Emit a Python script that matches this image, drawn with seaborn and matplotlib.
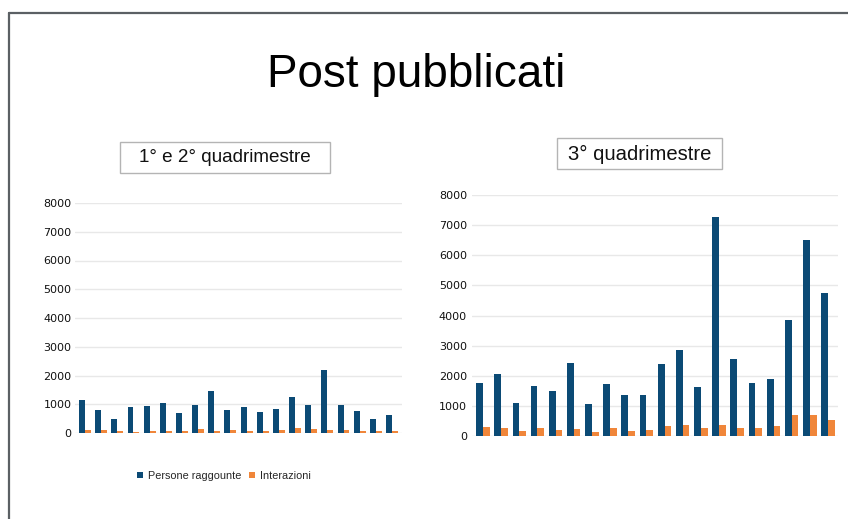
import matplotlib
matplotlib.use("Agg")
import matplotlib.pyplot as plt
from matplotlib.lines import Line2D
from matplotlib.patches import Rectangle
import numpy as np
import pandas as pd
import seaborn as sns

# Reach and interactions per published post
post_q12 = list(range(1, 21))
persone_q12 = [1160, 790, 490, 890, 930, 1030, 680, 960, 1450, 800,
               890, 730, 820, 1250, 960, 2180, 960, 770, 490, 630]
interazioni_q12 = [115, 110, 80, 35, 80, 80, 80, 150, 80, 110,
                   80, 80, 110, 175, 150, 110, 110, 80, 55, 80]

post_q3 = list(range(1, 21))
persone_q3 = [1770, 2060, 1100, 1650, 1500, 2420, 1060, 1730, 1370, 1360,
              2380, 2840, 1630, 7280, 2570, 1760, 1900, 3850, 6500, 4740]
interazioni_q3 = [310, 255, 155, 265, 210, 235, 145, 265, 175, 200,
                  320, 355, 255, 365, 255, 265, 330, 690, 690, 520]

series_names = ["Persone raggounte", "Interazioni"]
series_colors = ["#0b4a75", "#f0863a"]
y_ticks = [0, 1000, 2000, 3000, 4000, 5000, 6000, 7000, 8000]


def long_table(posts, reach, inter):
    return pd.DataFrame({
        "post": posts + posts,
        "valore": reach + inter,
        "serie": [series_names[0]] * len(posts) + [series_names[1]] * len(posts),
    })


sns.set_style("white")
plt.rcParams["font.family"] = ["Liberation Sans", "DejaVu Sans"]

W, H = 848, 519
fig = plt.figure(figsize=(W / 100, H / 100), dpi=100)


def px_axes(left, top, right, bottom):
    return fig.add_axes([left / W, 1 - bottom / H, (right - left) / W, (bottom - top) / H])


def px_box(left, top, right, bottom):
    fig.add_artist(Rectangle((left / W, 1 - bottom / H), (right - left) / W, (bottom - top) / H,
                             transform=fig.transFigure, facecolor="white",
                             edgecolor="#b4b4b4", linewidth=1.0))


def draw_panel(ax, df, xlim, pad):
    sns.barplot(data=df, x="post", y="valore", hue="serie", hue_order=series_names,
                palette=series_colors, saturation=1, width=0.74, ax=ax,
                edgecolor="none", linewidth=0)
    ax.set_ylim(0, 8000)
    ax.set_xlim(*xlim)
    ax.set_yticks(y_ticks)
    ax.set_yticklabels([str(v) for v in y_ticks], family="DejaVu Sans",
                       fontsize=8.0, color="#111111")
    ax.set_xticks([])
    ax.set_xlabel("")
    ax.set_ylabel("")
    ax.tick_params(axis="y", length=0, pad=pad)
    for s in ax.spines.values():
        s.set_visible(False)
    ax.grid(axis="y", color="#e8e8e8", linewidth=1.0)
    ax.set_axisbelow(True)
    ax.patch.set_alpha(0)


ax1 = px_axes(75, 203, 402, 433)
draw_panel(ax1, long_table(post_q12, persone_q12, interazioni_q12), (-0.62, 19.62), 2.4)

ax2 = px_axes(472, 195, 838, 436)
draw_panel(ax2, long_table(post_q3, persone_q3, interazioni_q3), (-0.6, 19.55), 3.6)

handles, labels = ax1.get_legend_handles_labels()
ax1.get_legend().remove()
ax2.get_legend().remove()

fig.legend(handles, labels, loc="center", bbox_to_anchor=(224 / W, 1 - 476 / H),
           ncol=2, frameon=False, fontsize=7.8, handlelength=0.55, handleheight=0.55,
           handletextpad=0.45, columnspacing=0.7)

# Main title
fig.text(416 / W, 1 - 75 / H, "Post pubblicati", ha="center", va="center",
         fontsize=33, color="#000000")

# Panel captions in framed boxes
px_box(120, 142, 330, 173)
fig.text(225 / W, 1 - 158 / H, "1° e 2° quadrimestre", ha="center", va="center",
         fontsize=13.6, color="#111111")
px_box(557, 138, 722, 169)
fig.text(639.5 / W, 1 - 154 / H, "3° quadrimestre", ha="center", va="center",
         fontsize=14.6, color="#111111")

# Slide frame along the top and left edges
frame_color = "#5b6064"
fig.add_artist(Line2D([9 / W, 1.0], [1 - 13 / H, 1 - 13 / H], color=frame_color, linewidth=1.6))
fig.add_artist(Line2D([9 / W, 9 / W], [0.0, 1 - 13 / H], color=frame_color, linewidth=1.6))

fig.savefig("out.png", dpi=100)
